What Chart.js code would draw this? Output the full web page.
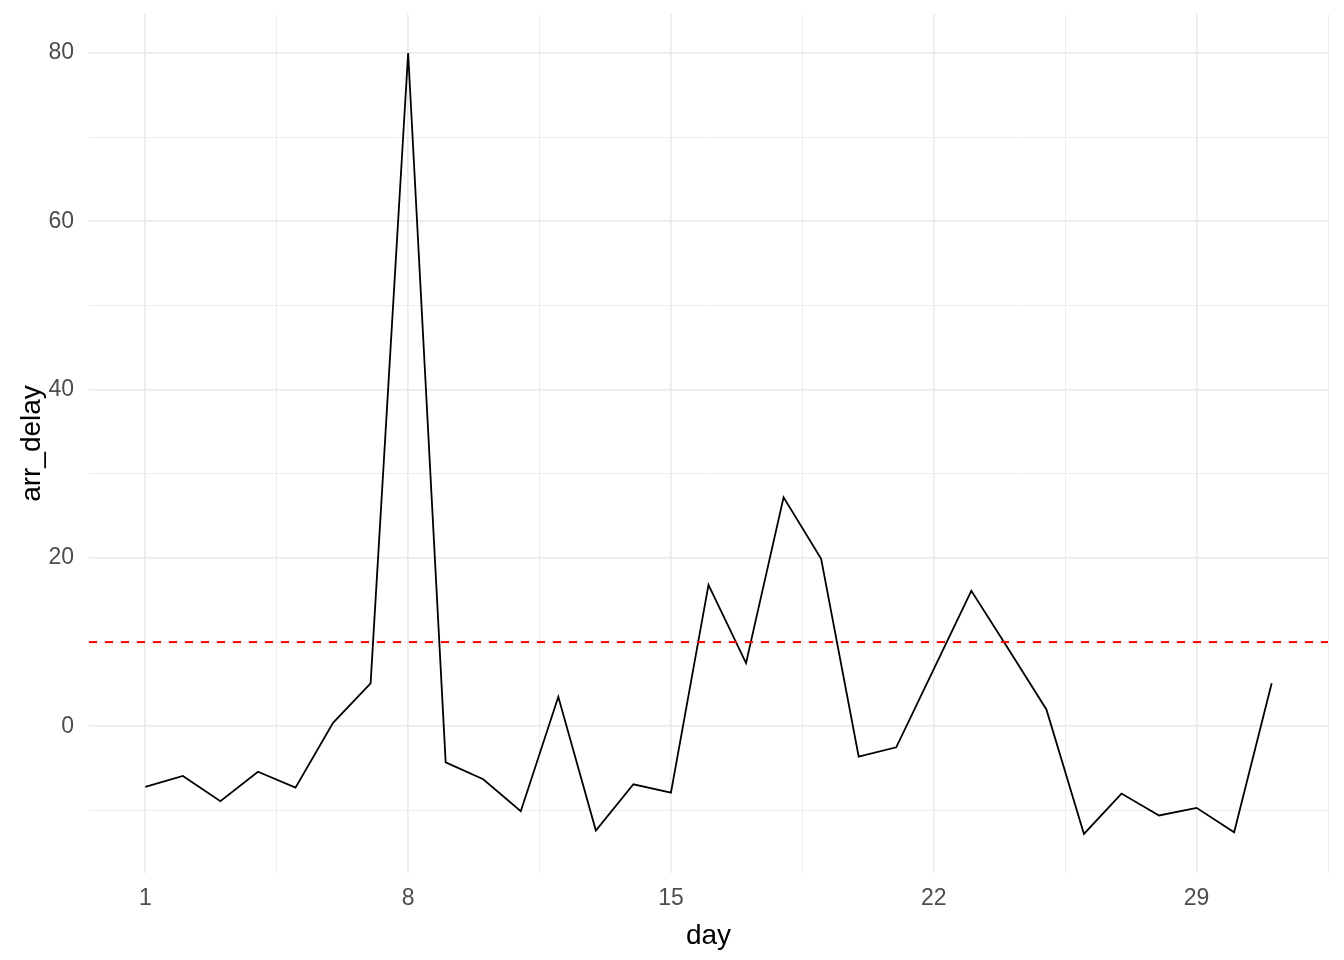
<!DOCTYPE html>
<html>
<head>
<meta charset="utf-8">
<script src="https://cdn.jsdelivr.net/npm/chart.js@4"></script>
<style>
  html, body { margin: 0; padding: 0; background: #ffffff; }
  #wrap { width: 1344px; height: 960px; }
</style>
</head>
<body>
<div id="wrap"><canvas id="c" width="1344" height="960"></canvas></div>
<script>
// ---- data ----
const days = [1,2,3,4,5,6,7,8,9,10,11,12,13,14,15,16,17,18,19,20,21,22,23,24,25,26,27,28,29,30,31];
const arrDelay = [-7.2, -5.9, -8.9, -5.4, -7.3, 0.4, 5.1, 80.0, -4.3, -6.3, -10.1, 3.5, -12.4, -6.9, -7.9,
                  16.8, 7.5, 27.2, 19.9, -3.6, -2.5, 6.8, 16.1, 9.1, 2.0, -12.8, -8.0, -10.6, -9.7, -12.6, 5.1];
const refLineValue = 10;

// ---- ticks ----
const xMajorTicks = [1, 8, 15, 22, 29];
const xMinorTicks = [4.5, 11.5, 18.5, 25.5, 32.5];
const yMajorTicks = [0, 20, 40, 60, 80];
const yMinorTicks = [-10, 10, 30, 50, 70];

// axis limits (ggplot default 5% expansion)
const xMin = -0.5, xMax = 32.5;
const yMin = -17.44, yMax = 84.64;

const FONT = '"Liberation Sans", Arial, "DejaVu Sans", sans-serif';
const GRID = '#EBEBEB';

const lineData = days.map((d, i) => ({ x: d, y: arrDelay[i] }));
const refData = [{ x: xMin, y: refLineValue }, { x: xMax, y: refLineValue }];

function buildTicks(major, minor) {
  return major.concat(minor).sort((a, b) => a - b).map(v => ({ value: v }));
}

new Chart(document.getElementById('c'), {
  type: 'line',
  data: {
    datasets: [
      {
        data: refData,
        borderColor: '#FF0000',
        borderWidth: 2,
        borderDash: [8, 8],
        pointRadius: 0,
        fill: false,
        tension: 0
      },
      {
        data: lineData,
        borderColor: '#000000',
        borderWidth: 1.8,
        pointRadius: 0,
        fill: false,
        tension: 0
      }
    ]
  },
  options: {
    responsive: false,
    devicePixelRatio: 1,
    animation: false,
    layout: { padding: { left: 0, right: 16, top: 14, bottom: 0 } },
    plugins: {
      legend: { display: false },
      tooltip: { enabled: false }
    },
    scales: {
      x: {
        type: 'linear',
        min: xMin,
        max: xMax,
        afterBuildTicks: (scale) => { scale.ticks = buildTicks(xMajorTicks, xMinorTicks); },
        afterFit: (scale) => {
          scale.height = 87;
          scale.paddingLeft = 0; scale.paddingRight = 0;
        },
        border: { display: false },
        grid: {
          drawTicks: false,
          color: GRID,
          lineWidth: (ctx) => (ctx.tick && xMajorTicks.includes(ctx.tick.value)) ? 1.7 : 0.9
        },
        ticks: {
          autoSkip: false,
          maxRotation: 0,
          padding: 12,
          color: '#4D4D4D',
          font: { family: FONT, size: 23 },
          callback: (v) => xMajorTicks.includes(v) ? String(v) : ''
        },
        title: {
          display: true,
          text: 'day',
          color: '#000000',
          font: { family: FONT, size: 28 },
          padding: { top: 0, bottom: 7 }
        }
      },
      y: {
        type: 'linear',
        min: yMin,
        max: yMax,
        afterBuildTicks: (scale) => { scale.ticks = buildTicks(yMajorTicks, yMinorTicks); },
        afterFit: (scale) => {
          scale.width = 89;
          scale.paddingTop = 0; scale.paddingBottom = 0;
        },
        border: { display: false },
        grid: {
          drawTicks: false,
          color: GRID,
          lineWidth: (ctx) => (ctx.tick && yMajorTicks.includes(ctx.tick.value)) ? 1.7 : 0.9
        },
        ticks: {
          autoSkip: false,
          padding: 15,
          color: '#4D4D4D',
          font: { family: FONT, size: 23 },
          callback: (v) => yMajorTicks.includes(v) ? String(v) : ''
        },
        title: {
          display: true,
          text: 'arr_delay',
          color: '#000000',
          font: { family: FONT, size: 28 },
          padding: { top: 15, bottom: 0 }
        }
      }
    }
  }
});
</script>
</body>
</html>
